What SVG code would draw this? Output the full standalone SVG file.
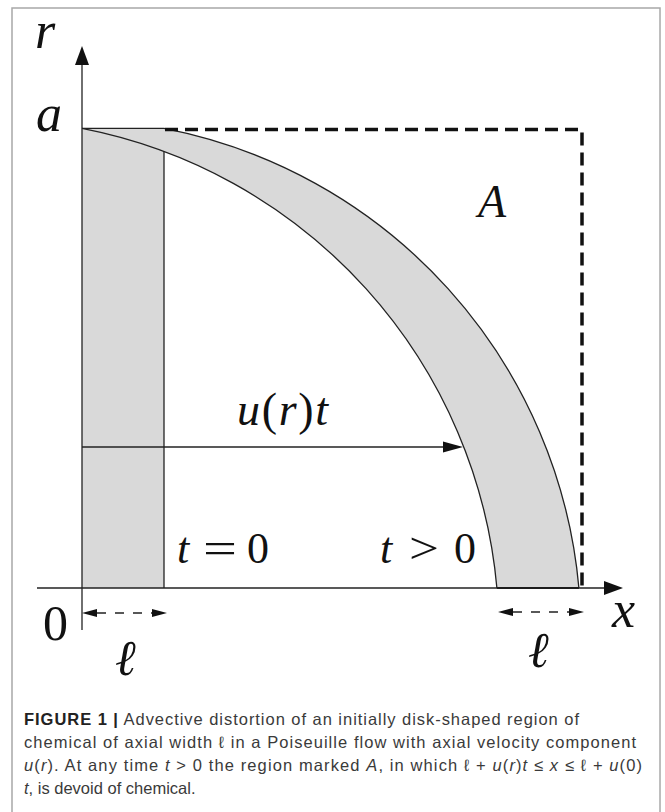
<svg xmlns="http://www.w3.org/2000/svg" width="665" height="812" viewBox="0 0 665 812">
  <style>
    .ln { fill: none; stroke: #222; stroke-width: 1.3; }
    .dash { fill: none; stroke: #111; stroke-width: 3.5; stroke-dasharray: 13 7; }
    .dim { fill: none; stroke: #222; stroke-width: 1.4; stroke-dasharray: 9 9; }
    .head { fill: #111; }
    .m { font-family: "Liberation Serif", "DejaVu Serif", serif; fill: #111; }
    .it { font-style: italic; }
    .cap { font-family: "Liberation Sans", Arial, sans-serif; font-size: 16.5px; fill: #3a3a3a; }
    .capb { font-weight: bold; fill: #222; }
  </style>
  <rect x="0" y="0" width="665" height="812" fill="#fff"/>
  <rect x="12" y="8" width="648" height="830" fill="#fff" stroke="#a8a8a8" stroke-width="1.5"/>

  <g id="region">
    <path d="M82,128.4 L164,128.4 A515,515 0 0 1 578.9,588 L496.9,588 A515,515 0 0 0 164,151.5 L164,588 L82,588 Z" fill="#d9d9d9"/>
    <path class="ln" d="M82,128.4 A515,515 0 0 1 496.9,588"/>
    <path class="ln" d="M164,128.4 A515,515 0 0 1 578.9,588"/>
    <path class="ln" d="M164,151.5 V588"/>
    <path class="ln" d="M82,128.4 H164"/>
    <path fill="none" stroke="#111" stroke-width="2.2" d="M496.9,588 H578.9"/>
  </g>

  <g id="regionA">
    <path class="dash" d="M165,129.5 H582 V588"/>
    <text class="m it" x="478" y="217" font-size="46">A</text>
  </g>

  <g id="connectors">
    <path class="ln" d="M82,630 V62"/>
    <polygon class="head" points="82,46 75,65 89,65"/>
    <path class="ln" d="M37,588 H606"/>
    <polygon class="head" points="623,588 604,581 604,595"/>
    <path class="ln" d="M82,447 H446"/>
    <polygon class="head" points="463,447 443,441.5 443,452.5"/>
    <path class="dim" d="M97,613 H152"/>
    <polygon class="head" points="82,613 97,609 97,617"/>
    <polygon class="head" points="167,613 152,609 152,617"/>
    <path class="dim" d="M513,612 H569"/>
    <polygon class="head" points="498,612 513,608 513,616"/>
    <polygon class="head" points="584,612 569,608 569,616"/>
  </g>

  <g id="labels">
    <text class="m it" x="35" y="48" font-size="52">r</text>
    <text class="m it" x="36" y="131" font-size="52">a</text>
    <text class="m" x="43" y="640" font-size="50">0</text>
    <text class="m it" x="612" y="627" font-size="52">x</text>
    <text class="m it" x="115" y="675" font-size="50">ℓ</text>
    <text class="m it" x="528" y="667" font-size="50">ℓ</text>
    <text class="m" x="237" y="425" font-size="46" textLength="91" lengthAdjust="spacing"><tspan class="it">u</tspan>(<tspan class="it">r</tspan>)<tspan class="it">t</tspan></text>
    <text class="m it" x="177" y="563" font-size="44">t</text>
    <text class="m" x="203" y="563" font-size="44" textLength="34" lengthAdjust="spacingAndGlyphs">=</text>
    <text class="m" x="247" y="563" font-size="44">0</text>
    <text class="m it" x="380" y="563" font-size="44">t</text>
    <text class="m" x="409" y="563" font-size="44" textLength="30" lengthAdjust="spacingAndGlyphs">&gt;</text>
    <text class="m" x="454" y="563" font-size="44">0</text>
  </g>

  <g id="caption">
    <text class="cap" x="24" y="725" textLength="555" lengthAdjust="spacing"><tspan class="capb">FIGURE 1 |</tspan> Advective distortion of an initially disk-shaped region of</text>
    <text class="cap" x="24" y="748" textLength="612" lengthAdjust="spacing">chemical of axial width ℓ in a Poiseuille flow with axial velocity component</text>
    <text class="cap" x="24" y="771" textLength="618" lengthAdjust="spacing"><tspan font-style="italic">u</tspan>(<tspan font-style="italic">r</tspan>). At any time <tspan font-style="italic">t</tspan> &gt; 0 the region marked <tspan font-style="italic">A</tspan>, in which ℓ + <tspan font-style="italic">u</tspan>(<tspan font-style="italic">r</tspan>)<tspan font-style="italic">t</tspan> ≤ <tspan font-style="italic">x</tspan> ≤ ℓ + <tspan font-style="italic">u</tspan>(0)</text>
    <text class="cap" x="24" y="794"><tspan font-style="italic">t</tspan>, is devoid of chemical.</text>
  </g>
</svg>
